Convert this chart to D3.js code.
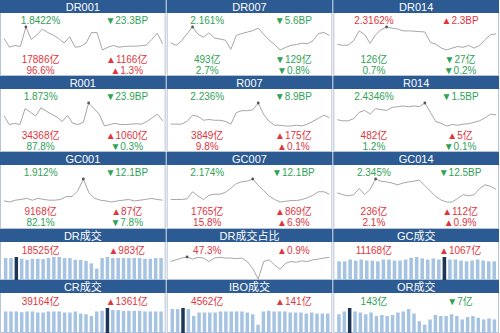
<!DOCTYPE html>
<html>
<head>
<meta charset="utf-8">
<script src="https://cdn.jsdelivr.net/npm/d3@7"></script>
<style>
  body { margin: 0; background: #fff; }
  svg { display: block; font-family: "Liberation Sans", Arial, "Noto Sans CJK SC", sans-serif; }
</style>
</head>
<body>
<div id="chart"></div>
<script>
// Panel kurs (3x3): judul, nilai, perubahan
const lineTitles = ["DR001", "DR007", "DR014", "R001", "R007", "R014", "GC001", "GC007", "GC014"];
const rateValues = ["1.8422%", "2.161%", "2.3162%", "1.873%", "2.236%", "2.4346%", "1.912%", "2.174%", "2.345%"];
const rateChanges = ["23.3BP", "5.6BP", "2.3BP", "23.9BP", "8.9BP", "1.5BP", "12.1BP", "12.1BP", "12.5BP"];
const rateUp = [false, false, true, false, false, false, false, false, false];
const volValues = ["17886亿", "493亿", "126亿", "34368亿", "3849亿", "482亿", "9168亿", "1765亿", "236亿"];
const volChanges = ["1166亿", "129亿", "27亿", "1060亿", "175亿", "5亿", "87亿", "869亿", "112亿"];
const volUp = [true, false, false, true, true, true, true, true, true];
const shareValues = ["96.6%", "2.7%", "0.7%", "87.8%", "9.8%", "1.2%", "82.1%", "15.8%", "2.1%"];
const shareChanges = ["1.3%", "0.8%", "0.2%", "0.3%", "0.1%", "0.1%", "7.8%", "6.9%", "0.9%"];
const shareUp = [true, false, false, false, true, false, false, true, true];

// Seri garis (level relatif)
const seriesDR001 = [45, 20, 25, 22, 78, 42, 55, 72, 62, 55, 45, 32, 50, 20, 22, 32, 62, 62, 12, 20, 25, 20, 22, 23, 23, 24, 26, 42, 60, 30];
const seriesDR007 = [35, 28, 40, 60, 78, 58, 50, 62, 48, 45, 42, 17, 55, 60, 64, 68, 75, 58, 42, 30, 15, 22, 28, 30, 34, 32, 40, 60, 63, 55];
const seriesDR014 = [30, 27, 28, 40, 65, 55, 32, 55, 68, 75, 72, 70, 65, 65, 64, 63, 62, 35, 30, 20, 15, 20, 24, 22, 27, 20, 27, 42, 55, 57];
const seriesR001 = [35, 12, 15, 12, 55, 45, 35, 57, 48, 40, 32, 20, 37, 15, 12, 18, 70, 55, 40, 8, 12, 15, 12, 12, 13, 14, 13, 20, 30, 40, 22];
const seriesR007 = [15, 15, 15, 22, 38, 35, 25, 27, 25, 25, 22, 15, 45, 50, 50, 52, 70, 40, 22, 12, 12, 10, 10, 12, 10, 15, 22, 30, 38, 32];
const seriesR014 = [25, 22, 22, 28, 45, 50, 40, 55, 52, 50, 58, 60, 62, 60, 62, 60, 70, 45, 20, 15, 8, 12, 10, 13, 14, 18, 22, 30, 40, 38];
const seriesGC001 = [8, 5, 10, 12, 15, 10, 15, 12, 10, 10, 12, 20, 20, 35, 68, 30, 15, 10, 8, 5, 8, 10, 12, 8, 10, 12, 15, 12, 10];
const seriesGC007 = [10, 10, 10, 12, 32, 20, 10, 22, 25, 25, 30, 42, 55, 60, 62, 68, 50, 35, 20, 10, 3, 5, 7, 7, 10, 15, 22, 32, 32, 25];
const seriesGC014 = [30, 25, 22, 25, 42, 25, 40, 68, 62, 60, 57, 52, 57, 60, 62, 65, 50, 35, 20, 10, 5, 5, 15, 25, 22, 25, 42, 52, 48, 40];
const seriesDRShare = [55, 60, 65, 68, 62, 67, 65, 55, 65, 67, 65, 65, 63, 65, 55, 35, 5, 55, 60, 45, 33, 50, 55, 53, 57, 55, 60, 62, 65, 67];

// Seri batang volume
const barsDR = [62, 62, 65, 60, 57, 60, 60, 59, 62, 65, 65, 62, 62, 57, 57, 54, 47, 32, 62, 65, 62, 62, 62, 62, 62, 62, 60, 60, 62, 62];
const barsGC = [52, 52, 57, 54, 57, 54, 54, 52, 57, 57, 54, 54, 57, 62, 64, 60, 57, 60, 57, 64, 57, 57, 54, 52, 54, 57, 54, 52, 52];
const barsCR = [62, 62, 62, 60, 62, 62, 59, 59, 62, 62, 62, 59, 59, 62, 56, 54, 49, 62, 64, 72, 66, 66, 64, 64, 64, 64, 62, 62, 62, 62];
const barsIBO = [69, 69, 72, 69, 49, 59, 59, 59, 59, 62, 62, 62, 62, 62, 59, 54, 24, 62, 64, 62, 62, 62, 59, 59, 59, 56, 59, 56, 56, 56];
const barsOR = [54, 62, 72, 62, 59, 54, 59, 49, 52, 49, 52, 59, 62, 69, 56, 34, 24, 39, 52, 49, 49, 54, 49, 39, 46, 49, 44, 39, 42, 39];
// Batang yang disorot (indeks)
const highlightDR = 2, highlightGC = 19, highlightCR = 19, highlightIBO = 2, highlightOR = 2;

const lineSeries = [seriesDR001, seriesDR007, seriesDR014, seriesR001, seriesR007, seriesR014, seriesGC001, seriesGC007, seriesGC014];

const width = 500, height = 333;
const colW = width / 3;
const rowTop = [0, 76, 152, 229, 280];
const rowH = [76, 76, 77, 51, 53];
const headH = 13;
const red = "#e0353d", green = "#2fa256";
const headBlue = "#2c5a93";

const svg = d3.select("#chart").append("svg")
  .attr("width", width)
  .attr("height", height);

function panel(col, row, title) {
  const x0 = col * colW;
  const g = svg.append("g").attr("transform", `translate(${x0},${rowTop[row]})`);
  const w = colW - 1;
  g.append("rect").attr("x", 0.5).attr("y", 0.5).attr("width", w - 1).attr("height", rowH[row] - 1)
    .attr("fill", "#fff").attr("stroke", "#b7c4d6");
  g.append("rect").attr("x", 0).attr("y", 0).attr("width", w).attr("height", headH).attr("fill", headBlue);
  g.append("text").attr("x", w / 2).attr("y", 10.5).attr("text-anchor", "middle")
    .attr("fill", "#fff").style("font-size", "11px").text(title);
  return { g, w };
}

function label(g, x, y, str, up) {
  g.append("text").attr("x", x).attr("y", y).attr("text-anchor", "middle")
    .attr("fill", up ? red : green).style("font-size", "10px").text(str);
}

function change(g, x, y, str, up) {
  label(g, x, y, (up ? "▲" : "▼") + str, up);
}

function drawLine(g, w, values, y0, y1) {
  const x = d3.scalePoint().domain(d3.range(values.length)).range([4, w - 3]);
  const y = d3.scaleLinear().domain(d3.extent(values)).range([y1, y0]);
  const line = d3.line().x((d, i) => x(i)).y((d) => y(d));
  g.append("path").datum(values).attr("d", line)
    .attr("fill", "none").attr("stroke", "#9c9c9c").attr("stroke-width", 0.9);
  const mi = d3.maxIndex(values);
  g.append("circle").attr("cx", x(mi)).attr("cy", y(values[mi])).attr("r", 1.4).attr("fill", "#555");
}

function drawBars(g, w, values, hi, y0, y1) {
  const x = d3.scaleBand().domain(d3.range(values.length)).range([2, w - 1]).padding(0.35);
  const y = d3.scaleLinear().domain([0, d3.max(values)]).range([y1, y0]);
  g.selectAll("rect.bar").data(values).enter().append("rect").attr("class", "bar")
    .attr("x", (d, i) => x(i)).attr("width", x.bandwidth())
    .attr("y", (d) => y(d)).attr("height", (d) => y1 - y(d))
    .attr("fill", (d, i) => (i === hi ? "#1d3557" : "#a6c3e2"));
}

// Panel kurs 3x3
lineTitles.forEach((t, i) => {
  const { g, w } = panel(i % 3, Math.floor(i / 3), t);
  const lx = w * 0.245, rx = w * 0.765;
  label(g, lx, 23.5, rateValues[i], rateUp[i]);
  change(g, rx, 23.5, rateChanges[i], rateUp[i]);
  drawLine(g, w, lineSeries[i], 27, 50);
  label(g, lx, 62.5, volValues[i], volUp[i]);
  change(g, rx, 62.5, volChanges[i], volUp[i]);
  label(g, lx, 73.5, shareValues[i], shareUp[i]);
  change(g, rx, 73.5, shareChanges[i], shareUp[i]);
});

// Panel volume bawah
const bottomPanels = [
  { col: 0, row: 3, title: "DR成交", value: "18525亿", delta: "983亿", up: true, bars: barsDR, hi: highlightDR },
  { col: 1, row: 3, title: "DR成交占比", value: "47.3%", delta: "0.9%", up: true, line: seriesDRShare },
  { col: 2, row: 3, title: "GC成交", value: "11168亿", delta: "1067亿", up: true, bars: barsGC, hi: highlightGC },
  { col: 0, row: 4, title: "CR成交", value: "39164亿", delta: "1361亿", up: true, bars: barsCR, hi: highlightCR },
  { col: 1, row: 4, title: "IBO成交", value: "4562亿", delta: "141亿", up: true, bars: barsIBO, hi: highlightIBO },
  { col: 2, row: 4, title: "OR成交", value: "143亿", delta: "7亿", up: false, bars: barsOR, hi: highlightOR },
];

bottomPanels.forEach((p) => {
  const { g, w } = panel(p.col, p.row, p.title);
  const lx = w * 0.245, rx = w * 0.765;
  label(g, lx, 24.5, p.value, p.up);
  change(g, rx, 24.5, p.delta, p.up);
  if (p.bars) drawBars(g, w, p.bars, p.hi, 28, rowH[p.row]);
  else drawLine(g, w, p.line, 28, 50);
});
</script>
</body>
</html>
